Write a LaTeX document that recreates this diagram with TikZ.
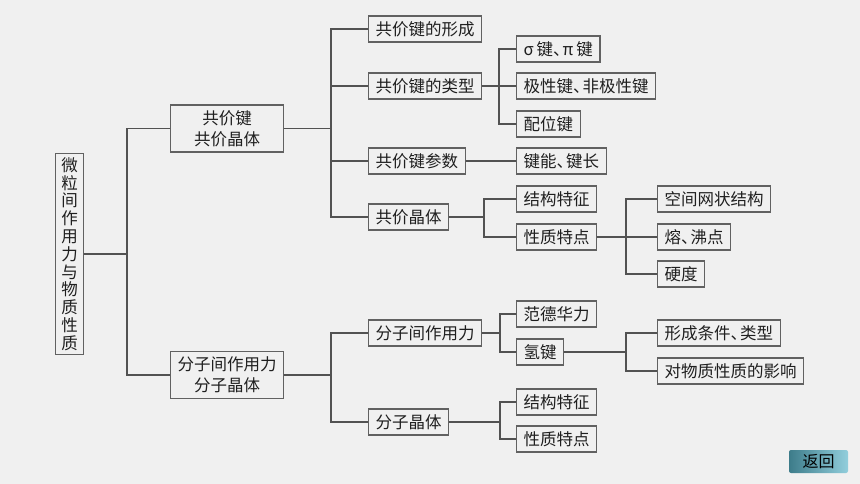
\documentclass[tikz,border=0pt]{standalone}
\usepackage{fontspec}
\usepackage{xcolor}
\newfontfamily\cjk{Noto Sans CJK SC}
\newcommand\dunhao{、\kern-0.42em}
\definecolor{pagebg}{HTML}{F0F0F0}
\definecolor{btndark}{HTML}{3D7C8A}
\definecolor{btnlight}{HTML}{92CEDC}
\colorlet{boxline}{black!62}
\colorlet{linkline}{black!68}
\tikzset{
    item/.style = {draw=boxline, line width=1.1pt, anchor=west, minimum height=26pt,
        inner xsep=7pt, inner ysep=0pt, text=black!88, font=\cjk\fontsize{16.5}{19}\selectfont},
    two line/.style = {item, align=center, minimum width=113pt, minimum height=47pt,
        font=\cjk\fontsize{16.5}{21}\selectfont},
    link/.style = {draw=linkline, line width=1.1pt},
    back button/.style = {rounded corners=2pt, left color=btndark, right color=btnlight,
        minimum width=59pt, minimum height=23pt, inner sep=0pt, font=\cjk\fontsize{16}{18}\selectfont}
}

\begin{document}
\begin{tikzpicture}[x=1pt, y=-1pt]
        % draw page
        \fill[pagebg] (0, 0) rectangle (860, 484);
        \useasboundingbox (0, 0) rectangle (860, 484);
        % draw root
        \node[item, anchor=center, align=center, inner xsep=6pt, minimum height=201pt,
            font=\cjk\fontsize{16.5}{17.8}\selectfont] (root) at (69.5, 254)
            {微\\粒\\间\\作\\用\\力\\与\\物\\质\\性\\质};
        % draw first level
        \node[two line] (b1) at (170, 128.5) {共价键\\共价晶体};
        \node[two line] (b2) at (170, 375) {分子间作用力\\分子晶体};
        % draw second level
        \node[item] (a1) at (368, 29) {共价键的形成};
        \node[item] (a2) at (368, 86) {共价键的类型};
        \node[item] (a3) at (368, 161) {共价键参数};
        \node[item] (a4) at (368, 217) {共价晶体};
        \node[item] (a5) at (368, 333) {分子间作用力};
        \node[item] (a6) at (368, 422) {分子晶体};
        % draw third level
        \node[item] (c1) at (516, 49) {σ\kern3pt 键\dunhao π\kern3pt 键};
        \node[item] (c2) at (516, 86) {极性键\dunhao 非极性键};
        \node[item] (c3) at (516, 124) {配位键};
        \node[item] (c4) at (516, 161) {键能\dunhao 键长};
        \node[item] (c5) at (516, 199) {结构特征};
        \node[item] (c6) at (516, 237) {性质特点};
        \node[item] (c7) at (516, 314) {范德华力};
        \node[item] (c8) at (516, 352) {氢键};
        \node[item] (c9) at (516, 402) {结构特征};
        \node[item] (c10) at (516, 439) {性质特点};
        % draw fourth level
        \node[item] (d1) at (657, 199) {空间网状结构};
        \node[item] (d2) at (657, 237) {熔\dunhao 沸点};
        \node[item] (d3) at (657, 274) {硬度};
        \node[item] (d4) at (657, 333) {形成条件\dunhao 类型};
        \node[item] (d5) at (657, 371) {对物质性质的影响};
        % joints
        \coordinate (j0) at (127, 254);
        \coordinate (j1) at (331, 128.5);
        \coordinate (j2) at (499, 86);
        \coordinate (j3) at (484, 217);
        \coordinate (j4) at (626, 237);
        \coordinate (j5) at (331, 375);
        \coordinate (j6) at (500, 333);
        \coordinate (j7) at (500, 422);
        \coordinate (j8) at (626, 352);
        % draw links
        \draw[link] (root) -- (j0);
        \draw[link] (b1) -| (j0) |- (b2);
        \draw[link] (b1) -- (j1);
        \draw[link] (a1) -| (j1) |- (a4);
        \foreach \n in {a2, a3}
            \draw[link] (\n) -- (\n -| j1);
        \draw[link] (a2) -- (c2);
        \draw[link] (c1) -| (j2) |- (c3);
        \draw[link] (a3) -- (c4);
        \draw[link] (a4) -- (j3);
        \draw[link] (c5) -| (j3) |- (c6);
        \draw[link] (c6) -- (d2);
        \draw[link] (d1) -| (j4) |- (d3);
        \draw[link] (b2) -- (j5);
        \draw[link] (a5) -| (j5) |- (a6);
        \draw[link] (a5) -- (j6);
        \draw[link] (c7) -| (j6) |- (c8);
        \draw[link] (a6) -- (j7);
        \draw[link] (c9) -| (j7) |- (c10);
        \draw[link] (c8) -- (j8);
        \draw[link] (d4) -| (j8) |- (d5);
        % draw back button
        \node[back button] (back) at (818.5, 461.5) {返回};
    \end{tikzpicture}
\end{document}
